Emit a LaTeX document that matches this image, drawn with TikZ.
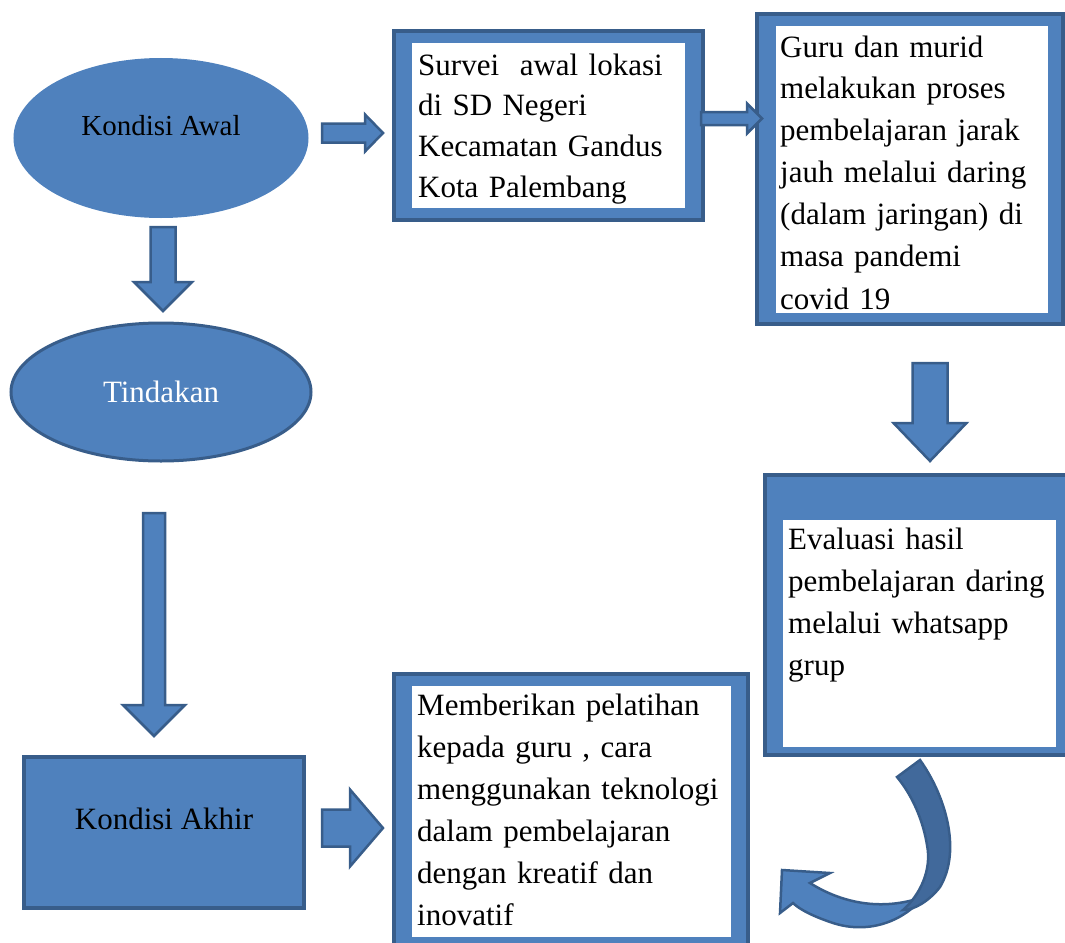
\documentclass[tikz,border=0pt]{standalone}
\usepackage{fontspec}
\setmainfont{Liberation Serif}
\usetikzlibrary{calc,fit,positioning,shapes.geometric}
\definecolor{fillblue}{HTML}{4F81BD}
\definecolor{edgeblue}{HTML}{385D8A}
\definecolor{shadeblue}{HTML}{41699B}
\tikzset{%
	oval/.style      = {ellipse, fill=fillblue, line width=3pt, inner sep=0pt},
	frame/.style     = {draw=edgeblue, rectangle, fill=fillblue, line width=3.5pt, inner sep=0pt},
	inbox/.style     = {rectangle, fill=white, inner sep=0pt},
	boxtext/.style   = {inner sep=0pt, anchor=base west, align=left, text width=330pt, font=\fontsize{31}{42}\selectfont},
	captext/.style   = {inner sep=0pt, anchor=base, font=\fontsize{31}{38}\selectfont},
	blockarrow/.style= {fill=fillblue, draw=edgeblue, line width=2.5pt, line join=miter},
}
% tail, tip, shaft half width, head half width, head length
\newcommand{\bigarrow}[5]{%
	\coordinate (hb) at ($(#2)!#5!(#1)$);
	\draw[blockarrow] ($(#1)!#3!90:(#2)$) -- ($(hb)!#3!90:(#2)$) -- ($(hb)!#4!90:(#2)$) -- (#2) -- ($(hb)!#4!-90:(#2)$) -- ($(hb)!#3!-90:(#2)$) -- ($(#1)!#3!-90:(#2)$) -- cycle;
}

\begin{document}
\begin{tikzpicture}[x=1pt,y=-1pt]
		\useasboundingbox (0,0) rectangle (1065,942);
		\clip (0,0) rectangle (1065,942);
		
		% left column
		\node[oval, draw=fillblue, minimum width=292pt, minimum height=157pt] (awal) at (161,138) {};
		\node[captext, font=\fontsize{29}{35}\selectfont] (awal-t) at (161,135) {Kondisi Awal};
		
		\node[oval, draw=edgeblue, minimum width=300pt, minimum height=138pt, text=white, font=\fontsize{31}{38}\selectfont] (tindakan) at (161,392) {Tindakan};
		
		\node[frame, fit={(24,757) (304,908)}] (akhir) {};
		\node[captext] (akhir-t) at (164,829) {Kondisi Akhir};
		
		% framed boxes
		\node[frame, fit={(394,31) (703,220)}] (survei) {};
		\node[inbox, fit={(412,43) (685,208)}] (survei-in) {};
		\node[boxtext, font=\fontsize{31}{40.7}\selectfont] (survei-t) at (418,75) {Survei\ \ awal lokasi\\ di SD Negeri\\ Kecamatan Gandus\\ Kota Palembang};
		
		\node[frame, fit={(757,14) (1063,324)}] (guru) {};
		\node[inbox, fit={(776,26) (1048,313)}] (guru-in) {};
		\node[boxtext] (guru-t) at (780,57) {Guru dan murid\\ melakukan proses\\ pembelajaran jarak\\ jauh melalui daring\\ (dalam jaringan) di\\ masa pandemi\\ covid 19};
		
		\node[frame, fit={(765,475) (1080,755)}] (evaluasi) {};
		\node[inbox, fit={(783,520) (1056,747)}] (evaluasi-in) {};
		\node[boxtext] (evaluasi-t) at (788,549) {Evaluasi hasil\\ pembelajaran daring\\ melalui whatsapp\\ grup};
		
		\node[frame, fit={(394,674) (748,960)}] (pelatihan) {};
		\node[inbox, fit={(412,686) (731,937)}] (pelatihan-in) {};
		\node[boxtext] (pelatihan-t) at (417,715) {Memberikan pelatihan\\ kepada guru , cara\\ menggunakan teknologi\\ dalam pembelajaran\\ dengan kreatif dan\\ inovatif};
		
		% block arrows
		\coordinate (a1-tail) at (322,133); \coordinate (a1-tip) at (383,133);
		\coordinate (a2-tail) at (701,118.5); \coordinate (a2-tip) at (762,118.5);
		\coordinate (a3-tail) at (163,227); \coordinate (a3-tip) at (163,311);
		\coordinate (a4-tail) at (154,513); \coordinate (a4-tip) at (154,736);
		\coordinate (a5-tail) at (930,363); \coordinate (a5-tip) at (930,461);
		\coordinate (a6-tail) at (322,828); \coordinate (a6-tip) at (383,828);
		
		\bigarrow{a1-tail}{a1-tip}{9.5pt}{18.5pt}{18pt}
		\bigarrow{a2-tail}{a2-tip}{6.5pt}{15pt}{15pt}
		\bigarrow{a3-tail}{a3-tip}{12.5pt}{29pt}{29pt}
		\bigarrow{a4-tail}{a4-tip}{11pt}{31pt}{31pt}
		\bigarrow{a5-tail}{a5-tip}{17.5pt}{36.5pt}{38pt}
		\bigarrow{a6-tail}{a6-tip}{18.5pt}{38.5pt}{33pt}
		
		% curved arrow back to the left
		\draw[blockarrow] (923,897) .. controls (905,920) and (870,935) .. (833,923) .. controls (815,917) and (800,910) .. (793,903) -- (780,913) -- (782,870) -- (830,873) -- (810,883) .. controls (840,902) and (880,912) .. (923,897) -- cycle;
		\draw[blockarrow, fill=shadeblue] (920,760) .. controls (945,795) and (962,850) .. (940,887) .. controls (930,900) and (915,910) .. (903,910) .. controls (920,895) and (932,870) .. (927,845) .. controls (923,820) and (912,795) .. (897,777) -- cycle;
\end{tikzpicture}
\end{document}
